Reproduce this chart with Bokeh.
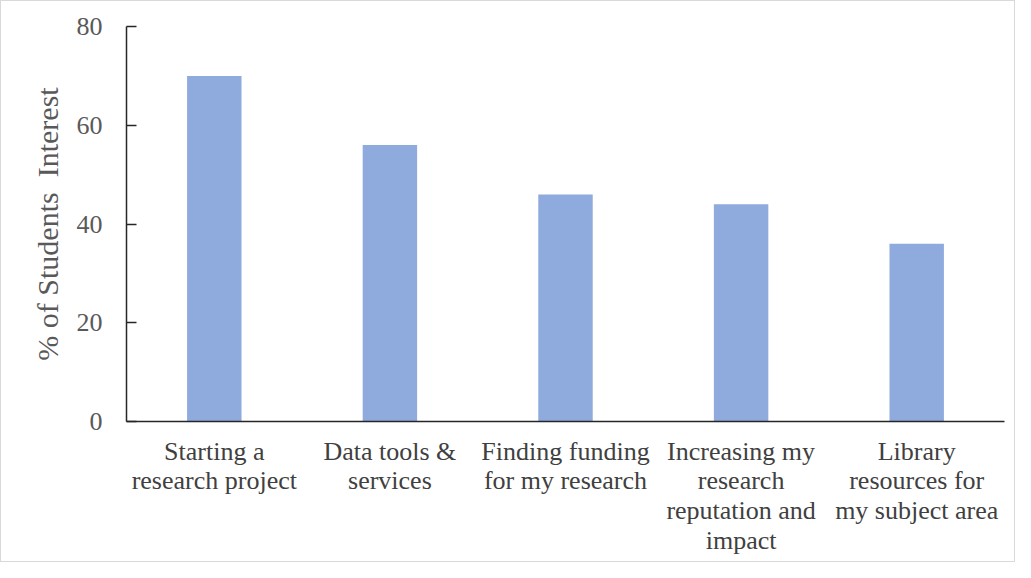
from bokeh.plotting import figure
from bokeh.models import FixedTicker, Range1d, ColumnDataSource
from bokeh.embed import file_html
from bokeh.resources import INLINE

categories = ["Starting a\nresearch project", "Data tools &\nservices", "Finding funding\nfor my research",
              "Increasing my\nresearch\nreputation and\nimpact", "Library\nresources for\nmy subject area"]
values = [70, 56, 46, 44, 36]
y_ticks = [0, 20, 40, 60, 80]

xs = list(range(len(categories)))
src = ColumnDataSource(dict(x=xs, top=values))

p = figure(width=1015, height=562, output_backend="svg", toolbar_location=None,
           x_range=Range1d(-0.5, len(categories) - 0.5), y_range=Range1d(0, 80),
           min_border_left=125, min_border_right=12, min_border_top=25, min_border_bottom=142)
p.styles = {"border": "1px solid #d9d9d9", "box-sizing": "border-box"}
p.vbar(x="x", top="top", width=0.31, bottom=0, source=src, color="#8FAADC", line_color=None)

p.xgrid.visible = False
p.ygrid.visible = False
p.outline_line_color = None

font = "Liberation Serif"
p.yaxis.ticker = FixedTicker(ticks=y_ticks)
p.yaxis.major_tick_in = 10
p.yaxis.major_tick_out = 0
p.yaxis.minor_tick_line_color = None
p.yaxis.axis_line_color = "#262626"
p.yaxis.axis_line_width = 1.5
p.yaxis.major_tick_line_color = "#262626"
p.yaxis.major_tick_line_width = 1.5
p.yaxis.major_label_text_font = font
p.yaxis.major_label_text_font_size = "26px"
p.yaxis.major_label_text_color = "#595959"
p.yaxis.major_label_standoff = 24
p.yaxis.axis_label = "% of Students\u00a0\u00a0Interest"
p.yaxis.axis_label_text_font = font
p.yaxis.axis_label_text_font_size = "30px"
p.yaxis.axis_label_text_font_style = "normal"
p.yaxis.axis_label_text_color = "#595959"
p.yaxis.axis_label_standoff = 10

p.xaxis.ticker = FixedTicker(ticks=xs)
p.xaxis.major_label_overrides = {i: c for i, c in zip(xs, categories)}
p.xaxis.major_tick_in = 0
p.xaxis.major_tick_out = 0
p.xaxis.minor_tick_line_color = None
p.xaxis.axis_line_color = "#262626"
p.xaxis.axis_line_width = 1.5
p.xaxis.major_label_text_font = font
p.xaxis.major_label_text_font_size = "26px"
p.xaxis.major_label_text_color = "#404040"
p.xaxis.major_label_text_line_height = 1.03
p.xaxis.major_label_standoff = 15

open("out.html", "w").write(file_html(p, INLINE))
